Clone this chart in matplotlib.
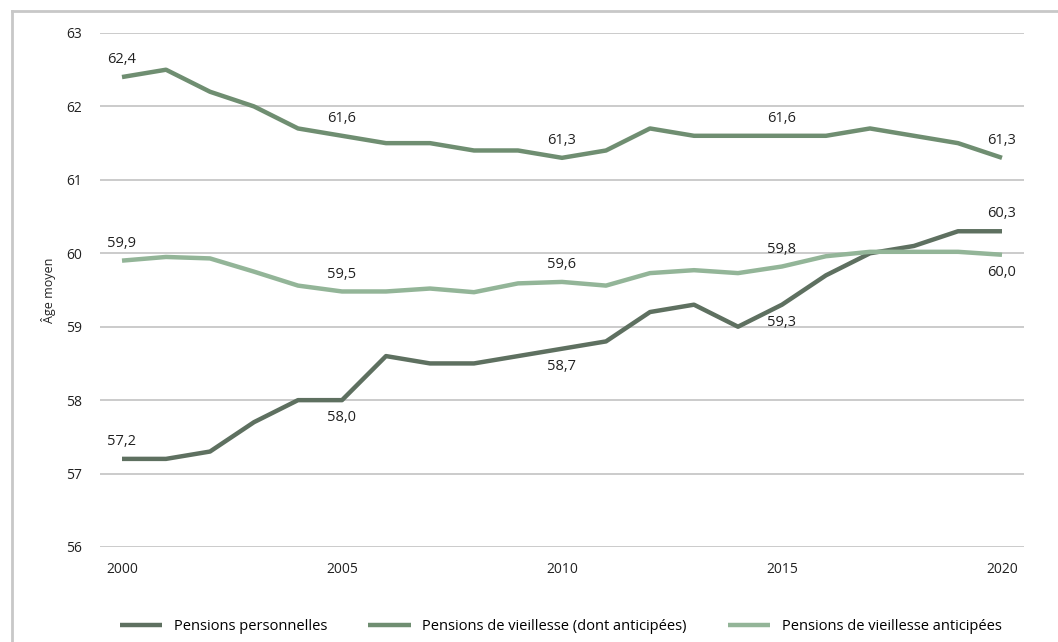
import matplotlib
matplotlib.use("Agg")
import matplotlib.pyplot as plt
from matplotlib.lines import Line2D
import numpy as np

years = list(range(2000, 2021))

personnelles = [57.2, 57.2, 57.3, 57.7, 58.0, 58.0, 58.6, 58.5, 58.5, 58.6, 58.7,
                58.8, 59.2, 59.3, 59.0, 59.3, 59.7, 60.0, 60.1, 60.3, 60.3]
vieillesse = [62.4, 62.5, 62.2, 62.0, 61.7, 61.6, 61.5, 61.5, 61.4, 61.4, 61.3,
              61.4, 61.7, 61.6, 61.6, 61.6, 61.6, 61.7, 61.6, 61.5, 61.3]
anticipees = [59.9, 59.95, 59.93, 59.75, 59.56, 59.48, 59.48, 59.52, 59.47, 59.59, 59.61,
              59.56, 59.73, 59.77, 59.73, 59.82, 59.96, 60.02, 60.02, 60.02, 59.98]

labels = ["Pensions personnelles", "Pensions de vieillesse (dont anticipées)",
          "Pensions de vieillesse anticipées"]
colors = ["#5e7060", "#6f8e71", "#93b598"]

label_years = [2000, 2005, 2010, 2015, 2020]
# +1 = label above the point, -1 = below
pos_personnelles = [1, -1, -1, -1, 1]
pos_vieillesse = [1, 1, 1, 1, 1]
pos_anticipees = [1, 1, 1, 1, -1]

plt.rcParams['font.family'] = ['Open Sans', 'DejaVu Sans']

fig = plt.figure(figsize=(10.58, 6.42), dpi=100)
ax = fig.add_axes([100/1058, 1 - 547/642, 924/1058, 514/642])

series = [(personnelles, pos_personnelles), (vieillesse, pos_vieillesse),
          (anticipees, pos_anticipees)]
for (vals, pos), lab, col in zip(series, labels, colors):
    ax.plot(years, vals, color=col, linewidth=3.2, label=lab, solid_capstyle='butt')
    for yr, p in zip(label_years, pos):
        v = vals[years.index(yr)]
        txt = ("%.1f" % v).replace(".", ",")
        ax.annotate(txt, (yr, v), xytext=(0, 12.5 * p), textcoords='offset points',
                    ha='center', va='center', fontsize=10.5, color='#222222')

ax.set_xlim(1999.5, 2020.5)
ax.set_ylim(56, 63)
ax.set_yticks(np.arange(56, 64, 1))
ax.set_xticks(label_years)
ax.grid(axis='y', color='#bdbdbd', linewidth=1.1)
ax.set_axisbelow(True)
for s in ax.spines.values():
    s.set_visible(False)
ax.tick_params(length=0, labelsize=10, colors='#222222')
ax.tick_params(axis='y', pad=13)
ax.tick_params(axis='x', pad=11)
ax.set_ylabel("Âge moyen", fontsize=9, color='#222222', labelpad=7)

fig.legend(loc='center', bbox_to_anchor=(0.530, 1 - 627/642), ncol=3, frameon=False,
           fontsize=10.5, handlelength=2.9, columnspacing=2.8, handletextpad=0.8)

# light frame of the original screenshot
fig.add_artist(Line2D([12/1058, 12/1058], [0, 1 - 11/642], color='#c8c8c8', linewidth=2,
                      transform=fig.transFigure))
fig.add_artist(Line2D([12/1058, 1], [1 - 11/642, 1 - 11/642], color='#c8c8c8', linewidth=2,
                      transform=fig.transFigure))

fig.savefig("out.png", dpi=100)
